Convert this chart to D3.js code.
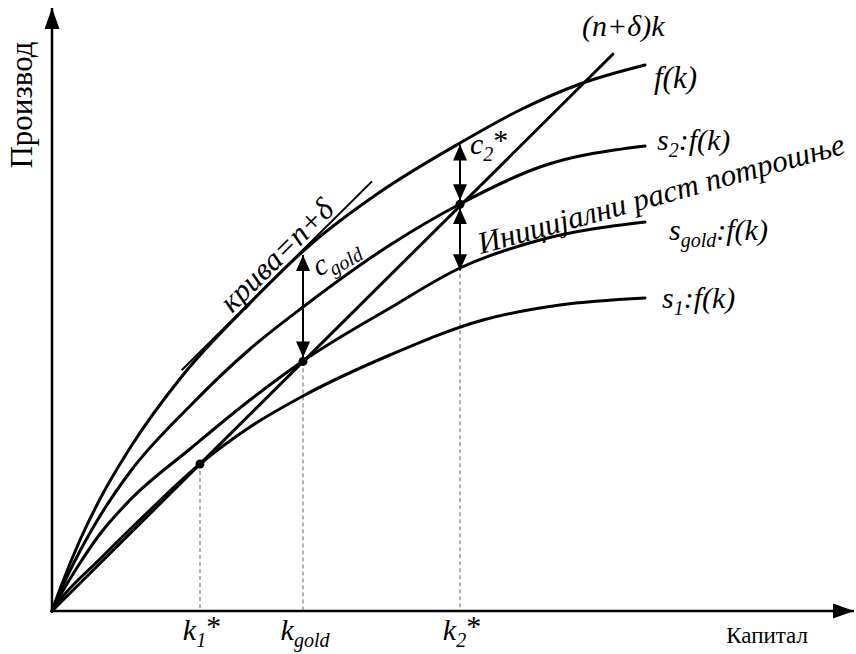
<!DOCTYPE html>
<html lang="en">
<head>
    <meta charset="UTF-8">
    <title>Golden rule</title>
    <script src="https://d3js.org/d3.v7.min.js"></script>
    <style>
        html, body {
            margin: 0;
            background: #fff;
        }
        text {
            font-family: "Liberation Serif", "DejaVu Serif", serif;
        }
    </style>
</head>
<body>
    <div id="vis"></div>
    <script>
        // curve points (capital k, output y)
        var fK  = [0, 1, 3.5, 6, 9.75, 16.375, 24.75, 32.25, 41, 51, 58.5, 66, 74.125];
        var fY  = [0, 2.75, 8.875, 14, 20.375, 29.5, 38.5, 45.75, 52.375, 58.5, 62.625, 65.875, 68.25];

        var s2K = [0, 1, 3.5, 6, 9.75, 17.25, 24.75, 31.375, 42.25, 51, 61, 74.125];
        var s2Y = [0, 2.375, 7.5, 11.875, 17.375, 25.625, 32.75, 38, 45.75, 50.875, 55.5, 58.125];

        var sgK = [0, 1, 3.5, 6, 9.75, 17.25, 24.75, 31.375, 42.25, 51, 61, 74.125];
        var sgY = [0, 1.875, 6, 9.625, 13.875, 20.25, 26.375, 31.25, 37.875, 42.875, 46.375, 48.625];

        var s1K = [0, 1, 6, 12.25, 18.5, 24.75, 31.375, 42.25, 53.875, 63.5, 74.125];
        var s1Y = [0, 1.375, 6.5, 12.625, 18.375, 23, 26.875, 32, 36.375, 38.25, 39.125];

        // (n+δ)k break-even line and the tangent with slope n+δ
        var lineK = [0, 70.1];
        var lineY = [0, 69.6];
        var tanK = [16.2, 40];
        var tanY = [30.1, 53.7];

        // steady states
        var steadyK = [18.5, 31.375, 51];
        var steadyY = [18.375, 31.2, 50.85];
        var steadySub = ["1", "gold", "2"];
        var steadyStar = ["*", "", "*"];

        // vertical double arrows: c_gold, c2*, initial consumption growth
        var arrowK    = [31.375, 51, 51];
        var arrowFrom = [31.2, 50.85, 50.85];
        var arrowTo   = [44.5, 58.3, 42.6];

        var width = 856, height = 654;
        var SERIF = "Liberation Serif";

        var x = d3.scaleLinear().domain([0, 100.25]).range([52, 854]);
        var y = d3.scaleLinear().domain([0, 75.375]).range([611, 8]);

        var svg = d3.select("#vis").append("svg")
            .attr("width", width)
            .attr("height", height)
            .attr("font-family", SERIF);

        var defs = svg.append("defs");
        defs.append("marker")
            .attr("id", "axhead")
            .attr("markerUnits", "userSpaceOnUse")
            .attr("markerWidth", 22).attr("markerHeight", 16)
            .attr("refX", 21).attr("refY", 7.5)
            .attr("orient", "auto")
          .append("path")
            .attr("d", "M0,0 L21,7.5 L0,15 Z")
            .attr("fill", "#000");
        defs.append("marker")
            .attr("id", "head")
            .attr("markerUnits", "userSpaceOnUse")
            .attr("markerWidth", 17).attr("markerHeight", 15)
            .attr("refX", 16).attr("refY", 7)
            .attr("orient", "auto-start-reverse")
          .append("path")
            .attr("d", "M0,0 L16,7 L0,14 Z")
            .attr("fill", "#000");

        function zip(ks, ys) {
            return ks.map(function(k, i) { return [k, ys[i]]; });
        }

        var curve = d3.line()
            .x(function(d) { return x(d[0]); })
            .y(function(d) { return y(d[1]); })
            .curve(d3.curveMonotoneX);

        // dashed drop lines
        svg.selectAll(".drop")
            .data(steadyK)
            .enter().append("line")
            .attr("x1", function(d) { return x(d); })
            .attr("x2", function(d) { return x(d); })
            .attr("y1", function(d, i) { return y(steadyY[i]); })
            .attr("y2", y(0))
            .attr("stroke", "#666")
            .attr("stroke-width", 1)
            .attr("stroke-dasharray", "4,3");

        // axes
        svg.append("line")
            .attr("x1", x(0)).attr("y1", y(0) + 1)
            .attr("x2", x(0)).attr("y2", y.range()[1])
            .attr("stroke", "#000").attr("stroke-width", 2.5)
            .attr("marker-end", "url(#axhead)");
        svg.append("line")
            .attr("x1", x(0) - 1).attr("y1", y(0))
            .attr("x2", x.range()[1]).attr("y2", y(0))
            .attr("stroke", "#000").attr("stroke-width", 2.5)
            .attr("marker-end", "url(#axhead)");

        // curves
        var series = [zip(fK, fY), zip(s2K, s2Y), zip(sgK, sgY), zip(s1K, s1Y), zip(lineK, lineY)];
        svg.selectAll(".curve")
            .data(series)
            .enter().append("path")
            .attr("class", "curve")
            .attr("d", curve)
            .attr("fill", "none")
            .attr("stroke", "#000")
            .attr("stroke-width", 3)
            .attr("stroke-linecap", "round");

        svg.append("path")
            .attr("d", d3.line().x(function(d) { return x(d[0]); }).y(function(d) { return y(d[1]); })(zip(tanK, tanY)))
            .attr("stroke", "#000")
            .attr("stroke-width", 2);

        // double arrows
        svg.selectAll(".arrow")
            .data(arrowK)
            .enter().append("line")
            .attr("x1", function(d) { return x(d); })
            .attr("x2", function(d) { return x(d); })
            .attr("y1", function(d, i) { return y(arrowFrom[i]) + (arrowTo[i] > arrowFrom[i] ? -4 : 4); })
            .attr("y2", function(d, i) { return y(arrowTo[i]); })
            .attr("stroke", "#000")
            .attr("stroke-width", 2)
            .attr("marker-start", "url(#head)")
            .attr("marker-end", "url(#head)");

        // steady-state dots
        svg.selectAll(".dot")
            .data(steadyK)
            .enter().append("circle")
            .attr("cx", function(d) { return x(d); })
            .attr("cy", function(d, i) { return y(steadyY[i]); })
            .attr("r", 4.5)
            .attr("fill", "#000");

        // italic label with optional subscript / superscript parts
        function label(g, parts, size) {
            var t = g.append("text")
                .attr("font-family", SERIF)
                .attr("font-style", "italic")
                .attr("font-size", size);
            var shift = 0;
            parts.forEach(function(p) {
                var s = t.append("tspan").text(p.t);
                var want = p.sub ? size * 0.22 : (p.sup ? -size * 0.12 : 0);
                if (want !== shift) { s.attr("dy", want - shift); shift = want; }
                if (p.sub) s.attr("font-size", Math.round(size * 0.68));
                if (p.roman) s.attr("font-style", "normal");
            });
            return t;
        }

        // x labels under the steady states
        steadyK.forEach(function(k, i) {
            label(svg, [{t: "k"}, {t: steadySub[i], sub: true}, {t: steadyStar[i], roman: true, sup: true}], 30)
                .attr("x", x(k) + 2).attr("y", 640)
                .attr("text-anchor", "middle");
        });

        // axis titles
        svg.append("text")
            .attr("x", 808).attr("y", 643)
            .attr("text-anchor", "end")
            .attr("font-family", SERIF)
            .attr("font-size", 23)
            .text("Капитал");
        svg.append("text")
            .attr("transform", "translate(32,105) rotate(-90)")
            .attr("text-anchor", "middle")
            .attr("font-family", SERIF)
            .attr("font-size", 31)
            .text("Производ");

        // curve labels
        label(svg, [{t: "(n+δ)k"}], 30).attr("x", 582).attr("y", 36);
        label(svg, [{t: "f(k)"}], 31).attr("x", 654).attr("y", 88);
        label(svg, [{t: "s"}, {t: "2", sub: true}, {t: ":f(k)"}], 30).attr("x", 657).attr("y", 150);
        label(svg, [{t: "s"}, {t: "gold", sub: true}, {t: ":f(k)"}], 30).attr("x", 669).attr("y", 240);
        label(svg, [{t: "s"}, {t: "1", sub: true}, {t: ":f(k)"}], 30).attr("x", 662).attr("y", 308);
        label(svg, [{t: "c"}, {t: "2", sub: true}, {t: "*", roman: true, sup: true}], 30).attr("x", 470).attr("y", 154);

        label(svg, [{t: "c"}, {t: "gold", sub: true}], 30)
            .attr("transform", "translate(319,277) rotate(-30)");

        label(svg, [{t: "крива=n+δ"}], 31)
            .attr("transform", "translate(232,314) rotate(-44.7)");

        label(svg, [{t: "Иницијални раст потрошње"}], 31)
            .attr("transform", "translate(481,254) rotate(-15.4)");
    </script>
</body>
</html>
